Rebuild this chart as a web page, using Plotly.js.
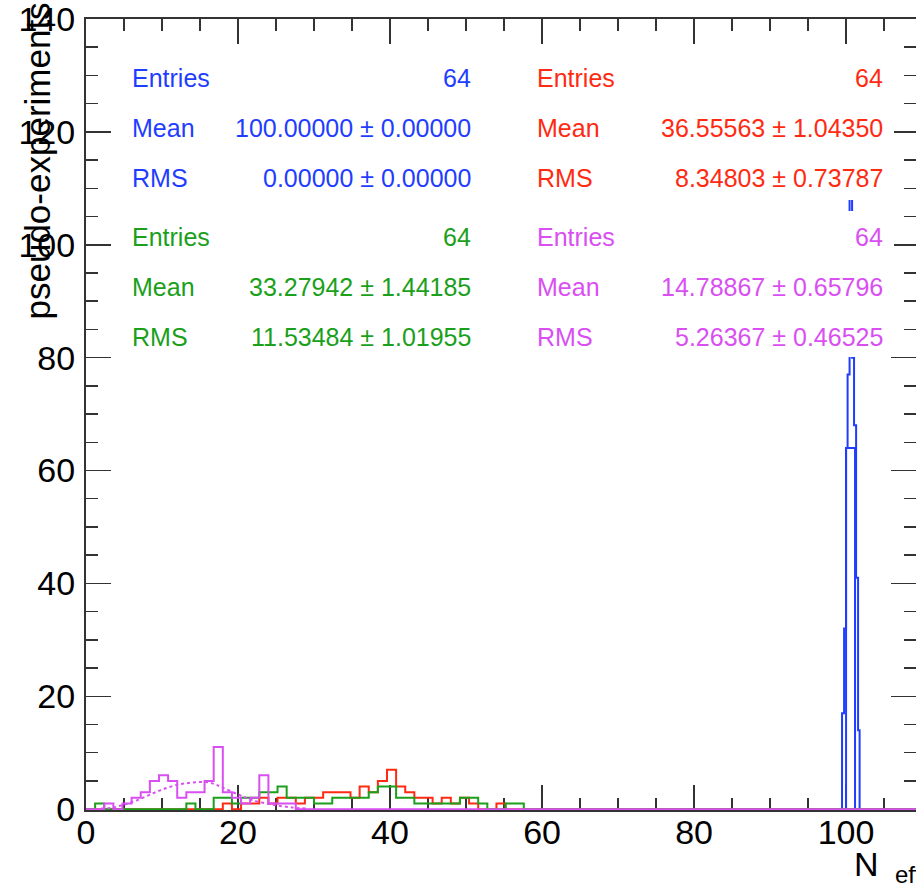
<!DOCTYPE html>
<html>
<head>
<meta charset="utf-8">
<script src="https://cdn.plot.ly/plotly-3.0.1.min.js"></script>
<style>html,body{margin:0;padding:0;background:#fff;overflow:hidden}#chart{width:916px;height:883px}</style>
</head>
<body>
<div id="chart"></div>
<script>
// ---- data ----
const binWidth = 1.2;           // common binning of the low histograms (0..120, 100 bins)
const nBins = 100;
const magentaCounts = [0,0,1,0,1,2,3,5,6,5,2,3,3,5,11,3,2,1,2,6,1,1,1];
const greenCounts   = [0,1,0,0,0,0,0,0,0,0,0,1,0,0,2,2,1,2,2,3,3,4,2,2,2,1,1,2,2,2,2,3,4,4,2,2,1,1,1,1,1,2,2,1,0,0,1,1];
const redCounts     = [0,0,0,0,0,0,0,0,0,0,0,0,0,0,0,1,0,1,1,2,1,2,2,1,2,2,3,3,3,2,4,3,5,7,4,3,2,2,1,2,1,2,1,0,0,1];
const blueEdges     = [99.47,99.74,100.0,100.2,100.46,100.79,101.05,101.32,101.58,101.78];
const blueCounts    = [17,32,64,77,125,80,68,41,14];
const blue2Edges    = [100.0,101.18];
const blue2Counts   = [64];
const fitX = [2.0,3.6,5.0,6.6,8.8,10.5,12.3,14.0,15.8,17.0,18.0,20.2,21.9,24.5,27.1,29.0];
const fitY = [0.1,0.3,0.8,1.5,2.8,3.7,4.4,4.7,4.8,4.4,3.8,2.5,1.6,0.8,0.3,0.1];

const stats = [
  {color:'#1f3dff', col:0, row:0, rows:[['Entries','64'],['Mean','100.00000 \u00b1 0.00000'],['RMS','0.00000 \u00b1 0.00000']]},
  {color:'#ff2a12', col:1, row:0, rows:[['Entries','64'],['Mean','36.55563 \u00b1 1.04350'],['RMS','8.34803 \u00b1 0.73787']]},
  {color:'#1aa01a', col:0, row:1, rows:[['Entries','64'],['Mean','33.27942 \u00b1 1.44185'],['RMS','11.53484 \u00b1 1.01955']]},
  {color:'#d94ff2', col:1, row:1, rows:[['Entries','64'],['Mean','14.78867 \u00b1 0.65796'],['RMS','5.26367 \u00b1 0.46525']]}
];

// ---- helpers ----
function stepPath(edges, counts){
  const xs=[edges[0]], ys=[0];
  for(let i=0;i<counts.length;i++){
    xs.push(edges[i], edges[i+1]); ys.push(counts[i], counts[i]);
  }
  xs.push(edges[edges.length-1]); ys.push(0);
  return {x:xs, y:ys};
}
function uniformHist(counts){
  const edges=[], full=[];
  for(let k=0;k<=nBins;k++) edges.push(+(k*binWidth).toFixed(4));
  for(let k=0;k<nBins;k++) full.push(k<counts.length?counts[k]:0);
  return stepPath(edges, full);
}
const L=86, R=916, T=19, B=810;
const px = v => (v-L)/(R-L);
const py = v => (B-v)/(B-T);

const FONT = 'Liberation Sans, Arial, Helvetica, sans-serif';

const traces = [];
function addHist(path, color){
  traces.push({type:'scatter', mode:'lines', x:path.x, y:path.y,
    line:{color:color, width:2, shape:'linear'}, hoverinfo:'skip', showlegend:false});
}
addHist(stepPath(blueEdges, blueCounts), '#1f3dff');
addHist(stepPath(blue2Edges, blue2Counts), '#1f3dff');
addHist(uniformHist(redCounts), '#ff2a12');
addHist(uniformHist(greenCounts), '#1aa01a');
addHist(uniformHist(magentaCounts), '#d94ff2');
traces.push({type:'scatter', mode:'lines', x:fitX, y:fitY, line:{color:'#d94ff2', width:2, dash:'dot', shape:'spline'}, hoverinfo:'skip', showlegend:false});

const annotations = [];
const shapes = [];
const colLeft = [130, 535], colRight = [473, 885];
const rowY = [[78,128,178],[237,287,337]];
const boxY = [[45,200],[211,357]];
stats.forEach(s=>{
  const xl = colLeft[s.col], xr = colRight[s.col];
  if(s.col===1){
    shapes.push({type:'rect', xref:'paper', yref:'paper', layer:'above',
      x0:px(xl-12), x1:px(894), y0:py(boxY[s.row][1]), y1:py(boxY[s.row][0]),
      fillcolor:'#ffffff', line:{width:0}});
  }
  s.rows.forEach((r,i)=>{
    const y = py(rowY[s.row][i]);
    annotations.push({xref:'paper', yref:'paper', x:px(xl), y:y, xanchor:'left', yanchor:'middle',
      text:r[0], showarrow:false, font:{family:FONT, size:25, color:s.color}});
    annotations.push({xref:'paper', yref:'paper', x:px(xr), y:y, xanchor:'right', yanchor:'middle',
      text:r[1], showarrow:false, font:{family:FONT, size:25, color:s.color}});
  });
});
annotations.push({xref:'paper', yref:'paper', x:px(37), y:py(1), xanchor:'center', yanchor:'top', textangle:-90,
  text:'pseudo-experiments', showarrow:false, font:{family:FONT, size:35, color:'#000'}});
annotations.push({xref:'paper', yref:'paper', x:px(852), y:py(864), xanchor:'left', yanchor:'middle',
  text:'N', showarrow:false, font:{family:FONT, size:34, color:'#000'}});
annotations.push({xref:'paper', yref:'paper', x:px(893), y:py(874), xanchor:'left', yanchor:'middle',
  text:'eff', showarrow:false, font:{family:FONT, size:24, color:'#000'}});

const axisCommon = {
  showgrid:false, zeroline:false, showline:true, linecolor:'#333', linewidth:2, mirror:'allticks',
  ticks:'inside', ticklen:25, tickwidth:1.5, tickcolor:'#333', ticklabeloverflow:'allow',
  tickfont:{family:FONT, size:34, color:'#000'}, layer:'below traces'
};
const layout = {
  width:916, height:883, margin:{l:L, r:0, t:T, b:883-B}, paper_bgcolor:'#fff', plot_bgcolor:'#fff',
  showlegend:false,
  xaxis:Object.assign({}, axisCommon, {range:[0,109.2], tick0:0, dtick:20, ticklabelstandoff:-9,
    minor:{dtick:5, tick0:0, ticks:'inside', ticklen:12, tickwidth:1.5, tickcolor:'#333', showgrid:false}}),
  yaxis:Object.assign({}, axisCommon, {range:[-0.15,140], tick0:0, dtick:20, ticklabelstandoff:2,
    minor:{dtick:5, tick0:0, ticks:'inside', ticklen:12, tickwidth:1.5, tickcolor:'#333', showgrid:false}}),
  annotations:annotations, shapes:shapes
};
Plotly.newPlot('chart', traces, layout, {staticPlot:true, displayModeBar:false});
</script>
</body>
</html>
